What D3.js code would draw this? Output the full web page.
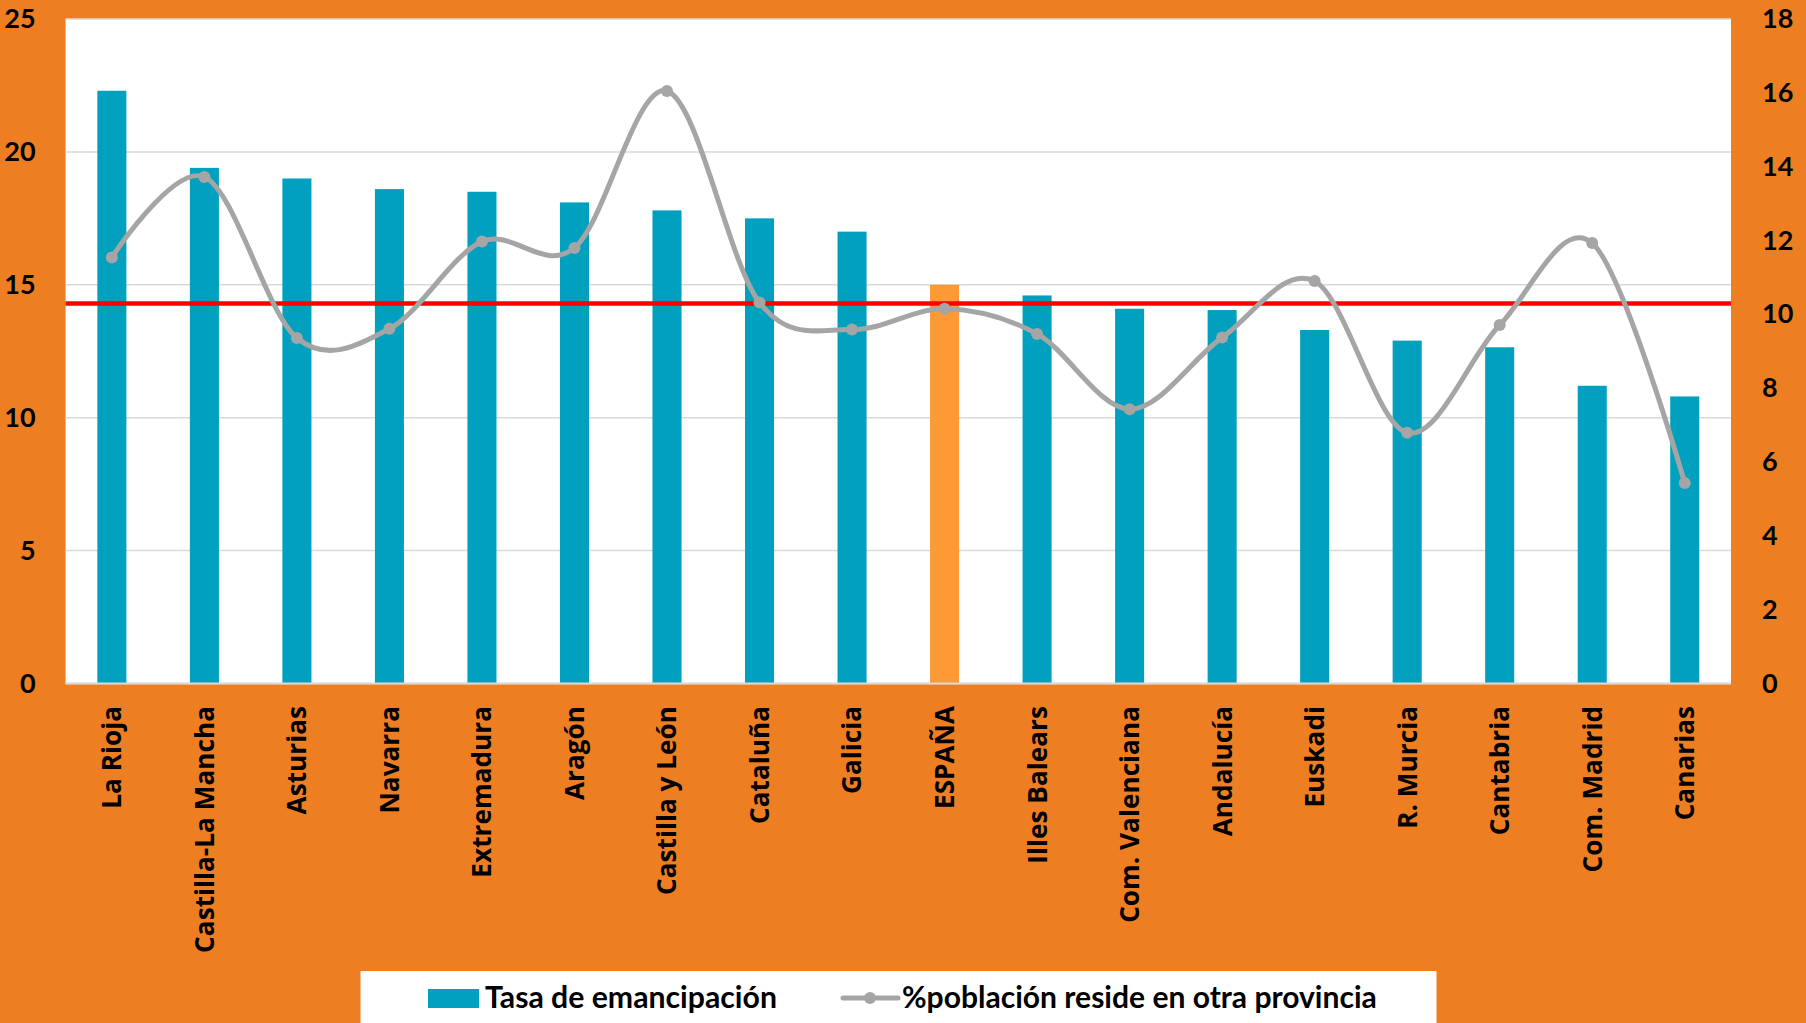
<!DOCTYPE html>
<html>
<head>
<meta charset="utf-8">
<script src="https://cdn.jsdelivr.net/npm/d3@7"></script>
<style>
  html, body { margin: 0; padding: 0; background: #EE7E22; }
  svg { display: block; }
</style>
</head>
<body>
<svg id="chart" width="1806" height="1023"></svg>
<script>
// ---- data ----
const categories = ["La Rioja", "Castilla-La Mancha", "Asturias", "Navarra", "Extremadura", "Aragón",
  "Castilla y León", "Cataluña", "Galicia", "ESPAÑA", "Illes Balears", "Com. Valenciana",
  "Andalucía", "Euskadi", "R. Murcia", "Cantabria", "Com. Madrid", "Canarias"];
const tasaEmancipacion = [22.3, 19.4, 19.0, 18.6, 18.5, 18.1, 17.8, 17.5, 17.0, 15.0, 14.6, 14.1,
  14.05, 13.3, 12.9, 12.65, 11.2, 10.8];
const poblacionOtraProvincia = [11.54, 13.72, 9.36, 9.61, 11.97, 11.8, 16.05, 10.32, 9.59, 10.15, 9.47,
  7.43, 9.37, 10.9, 6.79, 9.71, 11.93, 5.43];
const referenceLine = 14.3;
const leftTicks = [0, 5, 10, 15, 20, 25];
const rightTicks = [0, 2, 4, 6, 8, 10, 12, 14, 16, 18];
const highlight = "ESPAÑA";
const legendLabels = ["Tasa de emancipación", "%población reside en otra provincia"];

// ---- layout ----
const svg = d3.select("#chart");
const W = 1806, H = 1023;
const plot = { left: 65.6, right: 1731, top: 19, bottom: 683.5 };

svg.append("rect").attr("width", W).attr("height", H).attr("fill", "#EE7E22");
svg.append("rect")
  .attr("x", plot.left).attr("y", plot.top)
  .attr("width", plot.right - plot.left).attr("height", plot.bottom - plot.top)
  .attr("fill", "#ffffff");

const x = d3.scaleBand().domain(categories).range([plot.left, plot.right])
  .paddingInner(0.686).paddingOuter(0.343);
const yL = d3.scaleLinear().domain([0, 25]).range([plot.bottom, plot.top]);
const yR = d3.scaleLinear().domain([0, 18]).range([plot.bottom, plot.top]);

// gridlines
svg.append("g").selectAll("line").data(leftTicks).join("line")
  .attr("x1", plot.left).attr("x2", plot.right)
  .attr("y1", d => yL(d)).attr("y2", d => yL(d))
  .attr("stroke", "#D9D9D9").attr("stroke-width", 1.5);

// bars
svg.append("g").selectAll("rect").data(categories).join("rect")
  .attr("x", d => x(d)).attr("width", x.bandwidth())
  .attr("y", (d, i) => yL(tasaEmancipacion[i]))
  .attr("height", (d, i) => yL(0) - yL(tasaEmancipacion[i]))
  .attr("fill", d => d === highlight ? "#FD9A35" : "#00A0BE");

// reference line
svg.append("line")
  .attr("x1", plot.left).attr("x2", plot.right)
  .attr("y1", yL(referenceLine)).attr("y2", yL(referenceLine))
  .attr("stroke", "#FF0000").attr("stroke-width", 4.5);

// smoothed line
const cx = d => x(d) + x.bandwidth() / 2;
const line = d3.line().x(d => cx(d)).y((d, i) => yR(poblacionOtraProvincia[i]))
  .curve(d3.curveCardinal.tension(0));
svg.append("path").datum(categories)
  .attr("d", line).attr("fill", "none")
  .attr("stroke", "#A5A5A5").attr("stroke-width", 5).attr("stroke-linecap", "round");
svg.append("g").selectAll("circle").data(categories).join("circle")
  .attr("cx", d => cx(d)).attr("cy", (d, i) => yR(poblacionOtraProvincia[i]))
  .attr("r", 6).attr("fill", "#A5A5A5");

// axes
const tickFont = "Lato, 'Liberation Sans', sans-serif";
const axL = svg.append("g").attr("transform", `translate(${plot.left},0)`)
  .call(d3.axisLeft(yL).tickValues(leftTicks).tickSize(0).tickPadding(30));
const axR = svg.append("g").attr("transform", `translate(${plot.right},0)`)
  .call(d3.axisRight(yR).tickValues(rightTicks).tickSize(0).tickPadding(31));
[axL, axR].forEach(a => {
  a.select(".domain").remove();
  a.selectAll("text").attr("font-family", tickFont).attr("font-weight", 700)
    .attr("font-size", 27).attr("fill", "#000");
});

// bottom axis line
svg.append("line").attr("x1", plot.left).attr("x2", plot.right)
  .attr("y1", plot.bottom).attr("y2", plot.bottom)
  .attr("stroke", "#D9D9D9").attr("stroke-width", 2);

// category labels
const catFont = "'Open Sans', 'DejaVu Sans', sans-serif";
const labels = svg.append("g").selectAll("text").data(categories).join("text")
  .attr("transform", d => `translate(${cx(d)},706) rotate(-90)`)
  .attr("text-anchor", "end").attr("dy", "0.36em")
  .attr("font-family", catFont).attr("font-weight", 700)
  .attr("font-size", 20).attr("fill", "#000")
  .text(d => d);
// fit size so the longest label matches the reference length
const probe = labels.filter(d => d === "Castilla-La Mancha").node();
const catSize = 20 * 247 / probe.getComputedTextLength();
labels.attr("font-size", catSize);

// legend
svg.append("rect").attr("x", 360.5).attr("y", 971).attr("width", 1076).attr("height", 60).attr("fill", "#fff");
svg.append("rect").attr("x", 428).attr("y", 989).attr("width", 51).attr("height", 19).attr("fill", "#00A0BE");
svg.append("line").attr("x1", 843).attr("x2", 898).attr("y1", 998).attr("y2", 998)
  .attr("stroke", "#A5A5A5").attr("stroke-width", 5).attr("stroke-linecap", "round");
svg.append("circle").attr("cx", 870).attr("cy", 998).attr("r", 6).attr("fill", "#A5A5A5");
const legFont = "Lato, 'Liberation Sans', sans-serif";
const lt1 = svg.append("text").attr("x", 485).attr("y", 1008).text(legendLabels[0]);
const lt2 = svg.append("text").attr("x", 902).attr("y", 1008).text(legendLabels[1]);
[[lt1, 292], [lt2, 475]].forEach(([t, w]) => {
  t.attr("font-family", legFont).attr("font-weight", 700).attr("font-size", 26).attr("fill", "#000");
  const s = 26 * w / t.node().getComputedTextLength();
  t.attr("font-size", s);
});
</script>
</body>
</html>
